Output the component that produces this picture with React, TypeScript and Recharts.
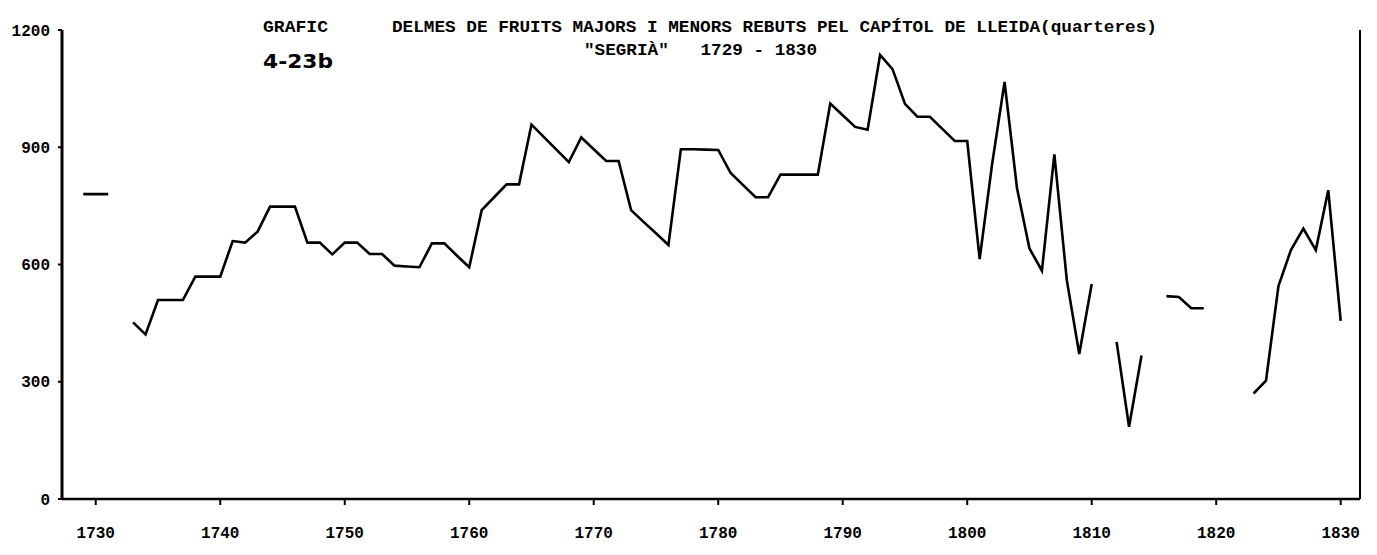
import { LineChart, Line, XAxis, YAxis } from 'recharts'

// Delmes rebuts pel Capítol de Lleida, Segrià (quarteres), one value per year from 1729
const firstYear = 1729
const quarteres: (number | null)[] = [
  780, 780, 780, null, 452, 421, 509, 509, 509, 569, // 1729-1738
  569, 569, 660, 656, 684, 748, 748, 748, 656, 656, // 1739-1748
  626, 656, 656, 627, 627, 597, 595, 593, 654, 654, // 1749-1758
  623, 593, 739, 772, 805, 805, 958, 926, 894, 862, // 1759-1768
  925, 895, 865, 865, 739, 709, 680, 650, 895, 895, // 1769-1778
  894, 893, 834, 803, 772, 772, 830, 830, 830, 830, // 1779-1788
  1012, 982, 952, 945, 1136, 1100, 1011, 978, 978, 947, // 1789-1798
  916, 916, 614, 857, 1067, 795, 641, 584, 882, 560, // 1799-1808
  371, 550, null, 402, 185, 367, null, 519, 517, 488, // 1809-1818
  488, null, null, null, 270, 303, 545, 637, 692, 637, // 1819-1828
  790, 456, // 1829-1830
]

const xTicks = [1730, 1740, 1750, 1760, 1770, 1780, 1790, 1800, 1810, 1820, 1830]
const yTicks = [0, 300, 600, 900, 1200]

const grafic = 'GRAFIC'
const graficNum = '4-23b'
const titleMain = 'DELMES DE FRUITS MAJORS I MENORS REBUTS PEL CAPÍTOL DE LLEIDA(quarteres)'
const subtitle = '"SEGRIÀ"   1729 - 1830'

const data = quarteres.map((value, i) => ({ year: firstYear + i, value }))

const mono = '"Liberation Mono", "DejaVu Sans Mono", monospace'
const tickStyle = { fill: '#000', fontFamily: mono, fontWeight: 700, fontSize: 16 }

export default function App() {
  return (
    <div style={{ position: 'absolute', left: 0, top: 0, width: 1377, height: 555, background: '#fff' }}>
      <LineChart width={1377} height={555} data={data} margin={{ top: 30, right: 16, bottom: 6, left: 0 }}>
        <XAxis
          type="number"
          dataKey="year"
          domain={[1727.29, 1831.55]}
          ticks={xTicks}
          allowDataOverflow
          height={50}
          tickSize={6}
          tickMargin={22}
          tick={tickStyle}
          tickLine={{ stroke: '#000', strokeWidth: 2 }}
          axisLine={{ stroke: '#000', strokeWidth: 2.5 }}
        />
        <YAxis
          yAxisId="left"
          domain={[0, 1200]}
          ticks={yTicks}
          width={62}
          tickSize={4}
          tickMargin={8}
          tick={tickStyle}
          tickLine={{ stroke: '#000', strokeWidth: 2 }}
          axisLine={{ stroke: '#000', strokeWidth: 3 }}
        />
        <YAxis
          yAxisId="right"
          orientation="right"
          domain={[0, 1200]}
          width={1}
          tick={false}
          tickLine={false}
          axisLine={{ stroke: '#000', strokeWidth: 2 }}
        />
        <Line
          yAxisId="left"
          type="linear"
          dataKey="value"
          stroke="#000"
          strokeWidth={2.6}
          dot={false}
          connectNulls={false}
          isAnimationActive={false}
        />
      </LineChart>
      <svg
        width={1377}
        height={555}
        style={{ position: 'absolute', left: 0, top: 0, pointerEvents: 'none' }}
      >
        <text x={263} y={32} fontFamily={mono} fontWeight={700} fontSize={17} textLength={65} lengthAdjust="spacingAndGlyphs">
          {grafic}
        </text>
        <text x={392} y={32} fontFamily={mono} fontWeight={700} fontSize={17} textLength={765} lengthAdjust="spacingAndGlyphs">
          {titleMain}
        </text>
        <text
          x={584}
          y={55}
          fontFamily={mono}
          fontWeight={700}
          fontSize={17}
          textLength={233}
          lengthAdjust="spacingAndGlyphs"
          style={{ whiteSpace: 'pre' }}
        >
          {subtitle}
        </text>
        <text x={263} y={68} fontFamily='"DejaVu Sans", sans-serif' fontWeight={700} fontSize={20} textLength={70} lengthAdjust="spacingAndGlyphs">
          {graficNum}
        </text>
      </svg>
    </div>
  )
}
